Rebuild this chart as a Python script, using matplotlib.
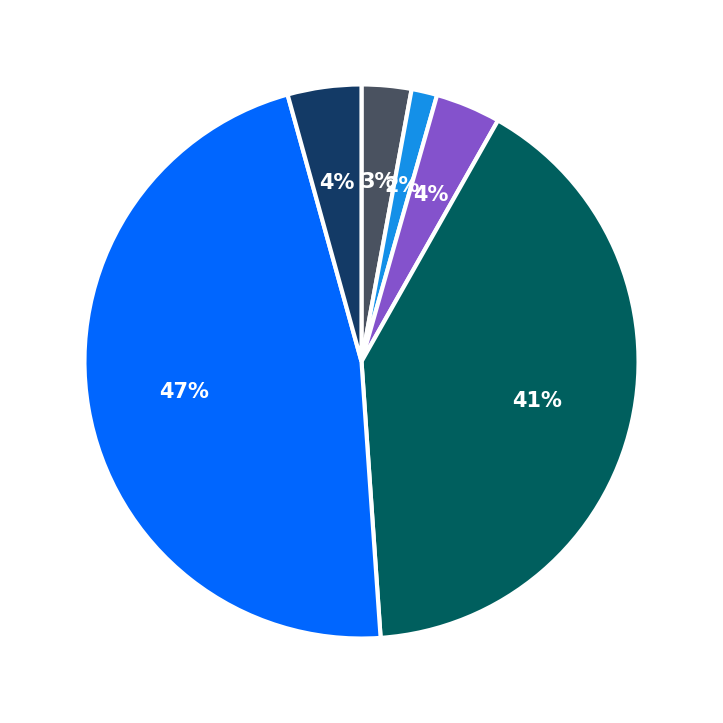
import matplotlib.pyplot as plt

values = [2.9, 1.5, 3.8, 40.7, 46.8, 4.3]
colors = ['#4a5260', '#1490e8', '#8452cc', '#005f5e', '#0066ff', '#133a66']

fig = plt.figure(figsize=(7.23, 7.23), dpi=100)
ax = fig.add_axes([0.021, 0.021, 0.958, 0.958])
ax.pie(values, colors=colors, startangle=90, counterclock=False,
       autopct='%.0f%%', pctdistance=0.65,
       wedgeprops=dict(edgecolor='white', linewidth=3),
       textprops=dict(color='white', fontsize=15, fontweight='bold'))
ax.set_aspect('equal')
plt.savefig('out.png')
